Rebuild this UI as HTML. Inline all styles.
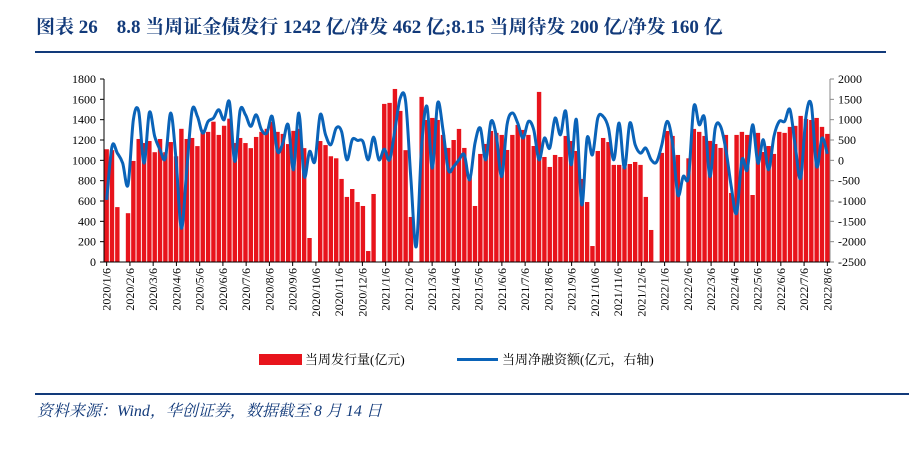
<!DOCTYPE html>
<html><head><meta charset="utf-8"><style>
body{margin:0;background:#fff;}
svg text{font-family:"Liberation Serif","Noto Serif CJK SC",serif;}
</style></head><body>
<svg width="921" height="447" viewBox="0 0 921 447" xmlns="http://www.w3.org/2000/svg">
<text x="36" y="33" font-size="19" font-weight="bold" fill="#123a7a">图表 26　8.8 当周证金债发行 1242 亿/净发 462 亿;8.15 当周待发 200 亿/净发 160 亿</text>
<rect x="35" y="51" width="851" height="2" fill="#123a7a"/>
<g id="plot"></g>
<g>
<rect x="259" y="354" width="43" height="11" fill="#e8141c"/>
<text x="305" y="364" font-size="13" fill="#000" font-family="'Liberation Sans','Noto Sans CJK SC',sans-serif">当周发行量(亿元)</text>
<rect x="457" y="358" width="41" height="3" fill="#0a63b8"/>
<text x="502" y="364" font-size="13" fill="#000">当周净融资额(亿元，右轴)</text>
</g>
<rect x="35" y="393" width="874" height="2" fill="#123a7a"/>
<text x="37" y="416" font-size="16" font-style="italic" fill="#123a7a">资料来源：Wind，华创证券，数据截至 8 月 14 日</text>
</svg>
<script>
const issuance=[1109,1100,540,0,480,994,1210,1170,1190,1080,1210,1080,1180,1040,1310,1210,1220,1140,1300,1280,1380,1250,1340,1410,1170,1220,1170,1120,1230,1280,1310,1380,1280,1260,1160,1290,1310,1120,236,0,1190,1150,1040,1020,817,640,718,
590,551,108,669,0,1555,1565,1702,1486,1100,443,0,1624,1397,1417,1397,1250,1122,1200,1309,1122,836,551,1063,1161,1289,1270,1250,1102,1250,1348,1299,1250,1141,1673,1033,935,1053,1033,1240,1190,1092,817,590,157,
1092,1220,1180,955,955,932,964,984,955,640,315,0,1073,1289,1240,1053,0,1020,1309,1280,1240,1191,1161,1122,1250,679,1250,1280,1250,659,1270,1082,1141,1063,1280,1270,1329,1339,1437,1407,1397,1417,1329,1260];
const netFinancing=[-972,342,177,-69,-603,998,1204,-69,1179,588,260,54,1163,13,-1670,-233,1228,1080,670,957,1039,1245,998,1433,-28,1228,1121,834,1121,752,670,1080,218,424,875,-233,1163,-397,218,-28,1121,629,383,793,711,13,506,
489,465,13,571,13,276,13,752,1532,1450,-479,-2121,342,1327,-192,1409,752,-233,-151,13,136,-479,424,793,13,957,588,-397,875,1163,916,547,957,752,13,547,301,1039,629,1204,-110,998,-1095,547,136,
1039,1080,793,13,916,-192,916,383,177,301,13,-40,383,957,424,-849,-397,-397,1327,875,1039,-397,793,834,260,-643,-1300,13,-233,875,-69,506,-233,588,957,957,1245,342,-438,1080,1368,-151,547,160];
const leftTicks=[0,200,400,600,800,1000,1200,1400,1600,1800];
const rightTicks=[-2500,-2000,-1500,-1000,-500,0,500,1000,1500,2000];
const monthLabels=[];
for(let y=2020;y<=2022;y++)for(let m=1;m<=12;m++){if(y===2022&&m>8)break;monthLabels.push(y+'/'+m+'/6');}

const NS='http://www.w3.org/2000/svg';
const g=document.getElementById('plot');
const L=104,R=830,T=79,B=262,n=issuance.length,step=(R-L)/n;
const xC=i=>L+step*(i+0.5);
const yL=v=>B-(v/1800)*(B-T);
const yR=v=>B-((v+2500)/4500)*(B-T);
function mk(tag,attrs){const e=document.createElementNS(NS,tag);for(const k in attrs)e.setAttribute(k,attrs[k]);g.appendChild(e);return e;}

issuance.forEach((v,i)=>{
 const r=mk('rect',{x:xC(i)-2.2,y:yL(v),width:4.4,height:B-yL(v),fill:'#e8141c'});
 
 
});
// smooth line
const pts=netFinancing.map((v,i)=>[xC(i),yR(v)]);
let d='M'+pts[0][0]+','+pts[0][1];
for(let i=0;i<pts.length-1;i++){
 const p0=pts[Math.max(0,i-1)],p1=pts[i],p2=pts[i+1],p3=pts[Math.min(pts.length-1,i+2)];
 const c1=[p1[0]+(p2[0]-p0[0])/6,p1[1]+(p2[1]-p0[1])/6],c2=[p2[0]-(p3[0]-p1[0])/6,p2[1]-(p3[1]-p1[1])/6];
 d+=` C${c1[0]},${c1[1]} ${c2[0]},${c2[1]} ${p2[0]},${p2[1]}`;
}
const ln=mk('path',{d:d,fill:'none',stroke:'#0a63b8','stroke-width':3,'stroke-linejoin':'round'});



// axes
const ax=mk('line',{x1:L,y1:T,x2:L,y2:B,stroke:'#000','stroke-width':1});


const axr=mk('line',{x1:R,y1:T,x2:R,y2:B,stroke:'#888','stroke-width':1});


const axb=mk('line',{x1:L,y1:B,x2:R,y2:B,stroke:'#000','stroke-width':1});


leftTicks.forEach(v=>{
 mk('line',{x1:L-4,y1:yL(v),x2:L,y2:yL(v),stroke:'#000'});
 const t=mk('text',{x:L-8,y:yL(v)+4,'font-size':12,'text-anchor':'end',fill:'#000'});
 t.textContent=v;
 
 
});
rightTicks.forEach(v=>{
 mk('line',{x1:R,y1:yR(v),x2:R+4,y2:yR(v),stroke:'#888'});
 const t=mk('text',{x:R+8,y:yR(v)+4,'font-size':12,'text-anchor':'start',fill:'#000'});
 t.textContent=v;
 
 
});
const mstep=(n-1)/(monthLabels.length-1);
monthLabels.forEach((lab,j)=>{
 const x=xC(j*mstep);
 mk('line',{x1:x,y1:B,x2:x,y2:B+4,stroke:'#000'});
 const t=mk('text',{x:0,y:0,'font-size':12,'text-anchor':'end',fill:'#000',transform:`translate(${x+4},${B+6}) rotate(-90)`});
 t.textContent=lab;
 
 
});
</script>
</body></html>
